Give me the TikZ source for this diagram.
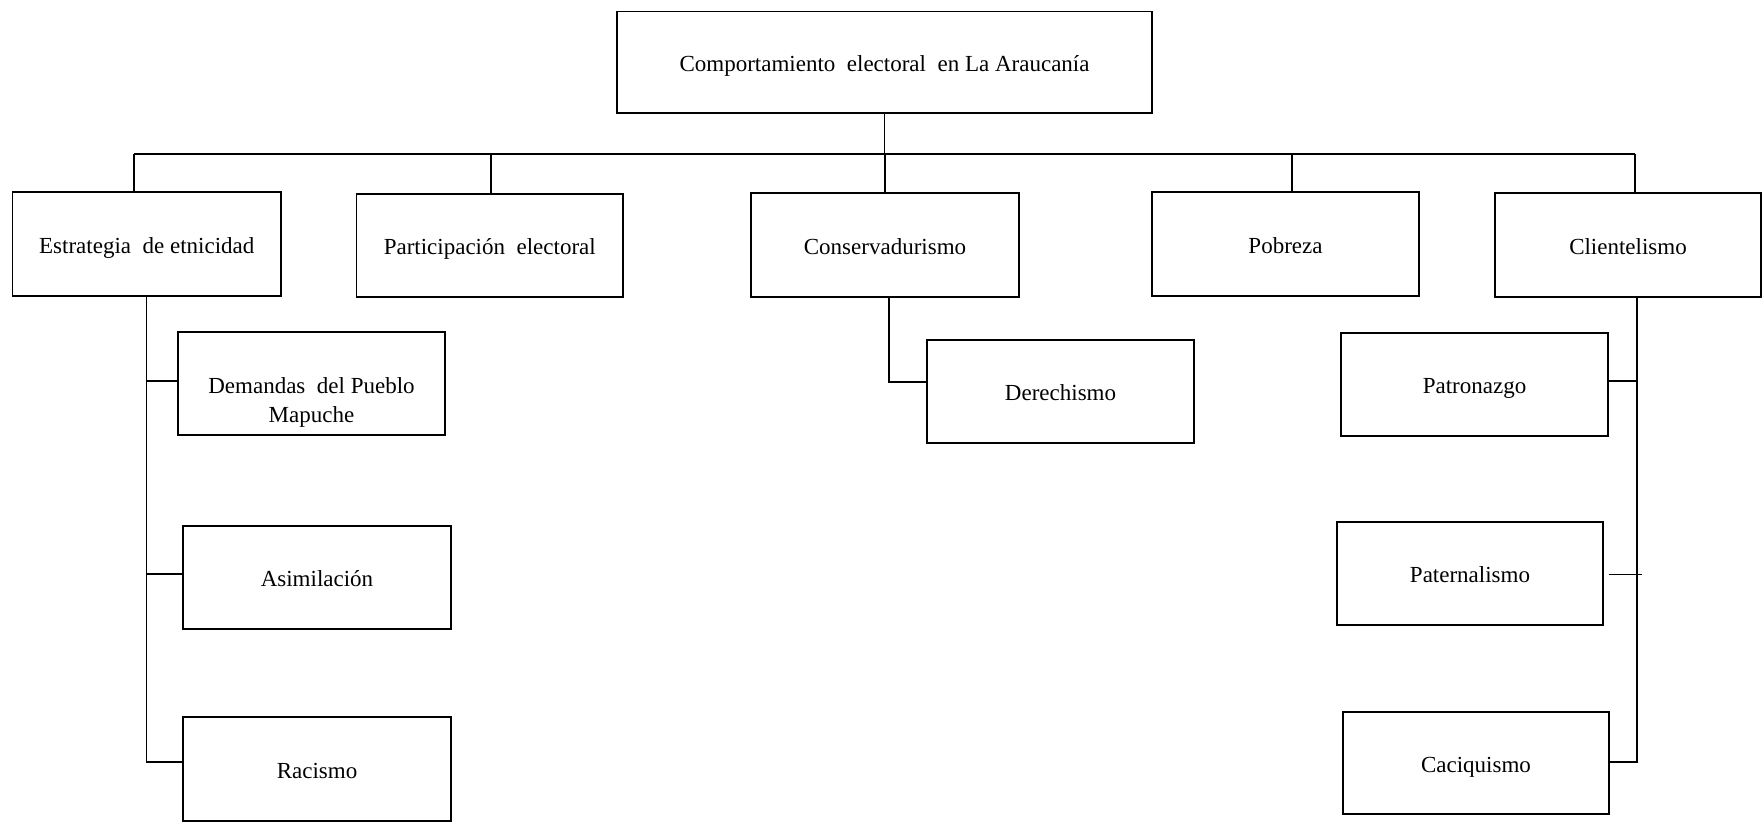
\documentclass[tikz,border=0pt]{standalone}
\usepackage{fontspec}
\setmainfont{Liberation Serif}
\begin{document}
\begin{tikzpicture}[x=0.5pt,y=-0.5pt,
  box/.style={draw=black, line width=0.7pt, inner sep=0pt, align=center,
    text height=12.3pt, text depth=3pt,
    font=\fontsize{11.5}{14.5}\selectfont},
  conn/.style={draw=black, line width=0.6pt}]
\useasboundingbox (0,0) rectangle (1764,825);
% top
\node[box, minimum width=267.5pt, minimum height=50.75pt] (top) at (884.5,62.25) {Comportamiento\ \ electoral\ \ en La Araucanía};
% level 1
\node[box, minimum width=134.25pt, minimum height=52pt] (est) at (146.75,244) {Estrategia\ \ de etnicidad};
\node[box, minimum width=133.25pt, minimum height=51.5pt] (par) at (489.75,245.5) {Participación\ \ electoral};
\node[box, minimum width=134pt, minimum height=52pt] (con) at (885,245) {Conservadurismo};
\node[box, minimum width=133.5pt, minimum height=52pt] (pob) at (1285.5,244) {Pobreza};
\node[box, minimum width=133pt, minimum height=52pt] (cli) at (1628,245) {Clientelismo};
% level 2 left
\node[box, minimum width=133.5pt, minimum height=51.5pt,
  label={[font=\fontsize{11.5}{14.5}\selectfont, align=center, yshift=-9.5pt]center:Demandas\ \ del Pueblo\\Mapuche}] (dem) at (311.5,383.5) {};
\node[box, minimum width=134pt, minimum height=51.5pt] (asi) at (317,577.5) {Asimilación};
\node[box, minimum width=134pt, minimum height=52pt] (rac) at (317,769) {Racismo};
% level 2 middle
\node[box, minimum width=133.5pt, minimum height=51.5pt] (der) at (1060.5,391.5) {Derechismo};
% level 2 right
\node[box, minimum width=133.5pt, minimum height=51.5pt] (patro) at (1474.5,384.5) {Patronazgo};
\node[box, minimum width=133pt, minimum height=51.5pt] (pate) at (1470,573.5) {Paternalismo};
\node[box, minimum width=133pt, minimum height=51pt] (caci) at (1476,763) {Caciquismo};
% bus
\coordinate (busL) at (134,154);
\coordinate (busR) at (1635,154);
\coordinate (cliS) at ([xshift=4.5pt]cli.south);
\draw[conn] (busL) -- (busR);
\draw[conn] (top.south) -- (top.south |- busL);
\draw[conn] ([xshift=-6.4pt]est.north) -- ([xshift=-6.4pt]est.north |- busL);
\draw[conn] ([xshift=0.6pt]par.north) -- ([xshift=0.6pt]par.north |- busL);
\draw[conn] (con.north) -- (con.north |- busL);
\draw[conn] ([xshift=3.25pt]pob.north) -- ([xshift=3.25pt]pob.north |- busL);
\draw[conn] ([xshift=3.5pt]cli.north) -- ([xshift=3.5pt]cli.north |- busL);
% left trunk
\draw[conn] (est.south) |- ([yshift=3.5pt]rac.west);
\draw[conn] ([yshift=1.25pt]dem.west) -- ([yshift=1.25pt]dem.west -| est.south);
\draw[conn] ([yshift=1.75pt]asi.west) -- ([yshift=1.75pt]asi.west -| est.south);
% middle trunk
\draw[conn] ([xshift=2pt]con.south) |- ([yshift=4.75pt]der.west);
% right trunk
\draw[conn] (cliS) |- ([yshift=0.5pt]caci.east);
\draw[conn] ([yshift=1.75pt]patro.east) -- ([yshift=1.75pt]patro.east -| cliS);
\draw[conn] ([xshift=2.5pt,yshift=-0.5pt]pate.east) -- ([xshift=2.5pt,yshift=-0.5pt]pate.east -| cliS);
\end{tikzpicture}
\end{document}
